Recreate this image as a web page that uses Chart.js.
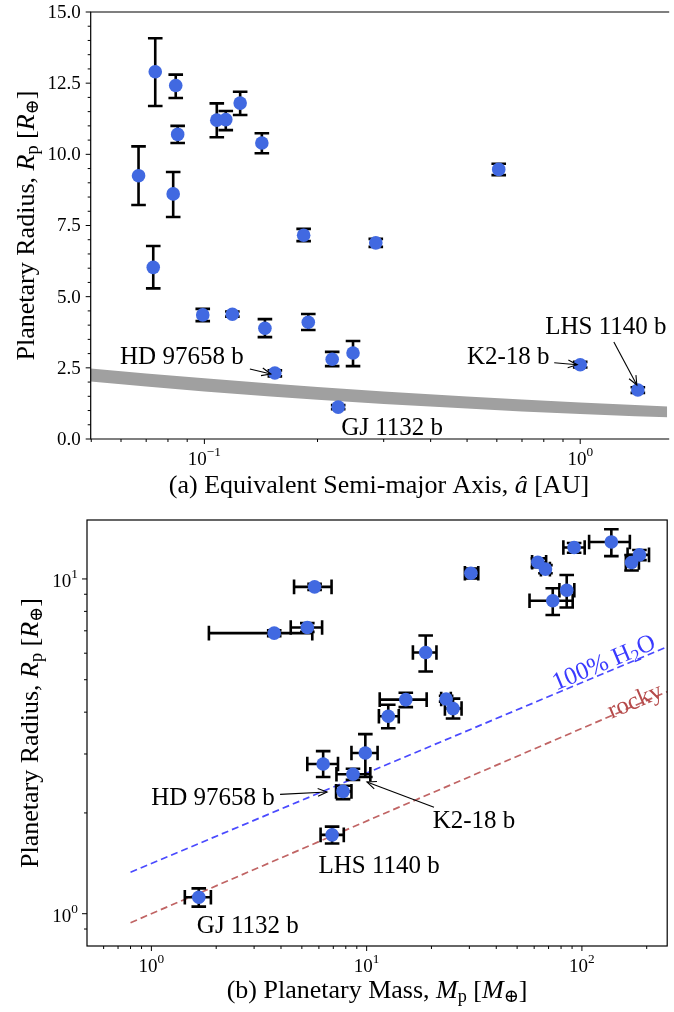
<!DOCTYPE html>
<html><head><meta charset="utf-8">
<script src="https://cdn.jsdelivr.net/npm/chart.js@4.4.0/dist/chart.umd.min.js"></script>
<style>
html,body{margin:0;padding:0;background:#fff;}
#wrap{position:relative;width:674px;height:1012px;overflow:hidden;background:#fff;}
canvas{position:absolute;left:0;}
</style></head><body>
<div id="wrap">
<canvas id="c1" width="674" height="505" style="top:0px"></canvas>
<canvas id="c2" width="674" height="507" style="top:505px"></canvas>
</div>
<script>
// ---------------- DATA ----------------
const semiMajorAxis = [0.0668, 0.0740, 0.0731, 0.0826, 0.0839, 0.0849, 0.0990, 0.1187, 0.1079, 0.1140, 0.1245, 0.1422, 0.1449, 0.1540, 0.1837, 0.1890, 0.2188, 0.2270, 0.2486, 0.2858, 0.6070, 1.0000, 1.4235];
const radius     = [9.25, 12.90, 6.03, 8.61, 12.42, 10.70, 4.36, 4.38, 11.20, 11.22, 11.80, 10.40, 3.89, 2.32, 7.16, 4.10, 2.80, 1.12, 3.02, 6.89, 9.47, 2.61, 1.72];
const radiusLow  = [8.22, 11.70, 5.29, 7.80, 11.98, 10.40, 4.14, 4.30, 10.60, 10.85, 11.38, 10.04, 3.58, 2.20, 6.95, 3.83, 2.56, 1.05, 2.56, 6.75, 9.27, 2.51, 1.62];
const radiusHigh = [10.28, 14.08, 6.78, 9.38, 12.80, 11.00, 4.57, 4.48, 11.79, 11.52, 12.20, 10.74, 4.21, 2.41, 7.38, 4.39, 3.06, 1.19, 3.44, 7.03, 9.67, 2.71, 1.82];
const mass       = [85.0, 137.0, 18.8, 73.2, 92.0, 67.7, 15.2, 23.4, 170.0, 62.4, 185.0, 30.5, 12.6, 7.77, 5.30, 25.2, 6.28, 1.66, 9.86, 3.72, 5.73, 8.64, 6.91];
const massLow    = [78.6, 108.0, 16.4, 57.1, 82.0, 64.5, 11.5, 22.2, 160.0, 58.7, 163.0, 28.6, 11.4, 7.21, 4.44, 23.1, 5.30, 1.43, 8.50, 1.85, 4.60, 7.24, 6.11];
const massHigh   = [92.2, 167.0, 21.1, 90.6, 103.0, 71.0, 19.0, 24.6, 184.0, 68.2, 205.0, 33.0, 14.1, 8.50, 6.21, 27.6, 7.36, 1.89, 11.24, 5.59, 6.87, 10.4, 7.83];

// rocky-planet band (panel a)
const bandAU    = [0.0498, 0.07, 0.10, 0.15, 0.20, 0.30, 0.50, 0.70, 1.00, 1.40, 1.71];
const bandUpper = [2.48, 2.30, 2.13, 1.95, 1.83, 1.67, 1.49, 1.39, 1.28, 1.19, 1.14];
const bandLower = [2.02, 1.84, 1.67, 1.49, 1.38, 1.23, 1.07, 0.97, 0.88, 0.80, 0.76];

// composition curves (panel b)
const curveMass  = [0.8, 250];
const waterCurve = [1.33, 6.28];
const rockyCurve = [0.94, 4.61];

// tick labels
const topYTicks = [0.0, 2.5, 5.0, 7.5, 10.0, 12.5, 15.0];
const topXMajor = [0.1, 1];
const topXExp   = ['\u22121', '0'];
const botXMajor = [1, 10, 100];
const botXExp   = ['0', '1', '2'];
const botYMajor = [1, 10];
const botYExp   = ['0', '1'];

// annotations: planet index
const annotIdx  = {hd: 13, gj: 17, k2: 21, lhs: 22};

// ---------------- STYLE ----------------
const FONT = '"Liberation Serif","DejaVu Serif",serif';
const BLUE = '#4169e1';
const TITLE = 26, ANN = 25;

function drawRich(ctx, segs, x, y, size, align, color) {
  const parts = segs.map(s => {
    const sz = (s.sub || s.sup) ? size * 0.7 : size;
    const font = (s.it ? 'italic ' : '') + sz + 'px ' + FONT;
    ctx.font = font;
    return {t: s.t, font, w: ctx.measureText(s.t).width, dy: s.sub ? size * 0.25 : (s.sup ? -size * 0.38 : 0)};
  });
  const total = parts.reduce((a, p) => a + p.w, 0);
  let cx = align === 'center' ? x - total / 2 : (align === 'right' ? x - total : x);
  ctx.fillStyle = color; ctx.textBaseline = 'middle'; ctx.textAlign = 'left';
  parts.forEach(p => { ctx.font = p.font; ctx.fillText(p.t, cx, y + p.dy); cx += p.w; });
  return total;
}
function pow10Label(ctx, exp, x, y, align) {
  drawRich(ctx, [{t: '10'}, {t: exp, sup: 1}], x, y, 19, align, '#000');
}
function arrow(ctx, x1, y1, x2, y2) {
  ctx.save();
  ctx.strokeStyle = '#000'; ctx.lineWidth = 1.1;
  ctx.beginPath(); ctx.moveTo(x1, y1); ctx.lineTo(x2, y2); ctx.stroke();
  const a = Math.atan2(y2 - y1, x2 - x1), L = 10, h = 0.4;
  ctx.beginPath();
  ctx.moveTo(x2 - L * Math.cos(a - h), y2 - L * Math.sin(a - h));
  ctx.lineTo(x2, y2);
  ctx.lineTo(x2 - L * Math.cos(a + h), y2 - L * Math.sin(a + h));
  ctx.stroke();
  ctx.restore();
}
function label(ctx, text, x, y) {
  ctx.font = ANN + 'px ' + FONT; ctx.fillStyle = '#000';
  ctx.textAlign = 'center'; ctx.textBaseline = 'middle';
  ctx.fillText(text, x, y);
}
function logMinors(min, max) {
  const out = [];
  for (let e = Math.floor(Math.log10(min)); e <= Math.ceil(Math.log10(max)); e++) {
    for (let k = 2; k <= 9; k++) { const v = k * Math.pow(10, e); if (v >= min && v <= max) out.push(v); }
  }
  return out;
}

function errorBarPlugin(getX, xErr) {
  return {
    id: 'errbars',
    beforeDatasetDraw(chart, args) {
      if (chart.data.datasets[args.index].label !== 'planets') return;
      const ctx = chart.ctx, xs = chart.scales.x, ys = chart.scales.y;
      ctx.save();
      ctx.strokeStyle = '#000'; ctx.lineWidth = 2.6; ctx.lineCap = 'butt';
      const cap = 7.3;
      for (let i = 0; i < radius.length; i++) {
        const px = xs.getPixelForValue(getX(i));
        const py = ys.getPixelForValue(radius[i]);
        const yl = ys.getPixelForValue(radiusLow[i]), yh = ys.getPixelForValue(radiusHigh[i]);
        ctx.beginPath();
        ctx.moveTo(px, yl); ctx.lineTo(px, yh);
        ctx.moveTo(px - cap, yl); ctx.lineTo(px + cap, yl);
        ctx.moveTo(px - cap, yh); ctx.lineTo(px + cap, yh);
        if (xErr) {
          const xl = xs.getPixelForValue(massLow[i]), xh = xs.getPixelForValue(massHigh[i]);
          ctx.moveTo(xl, py); ctx.lineTo(xh, py);
          ctx.moveTo(xl, py - cap); ctx.lineTo(xl, py + cap);
          ctx.moveTo(xh, py - cap); ctx.lineTo(xh, py + cap);
        }
        ctx.stroke();
      }
      ctx.restore();
    }
  };
}

const yTitleSegs = [{t: 'Planetary Radius, '}, {t: 'R', it: 1}, {t: 'p', sub: 1}, {t: ' ['}, {t: 'R', it: 1}, {t: '\u2295', sub: 1}, {t: ']'}];

// ---------------- PANEL A ----------------
const axesA = {
  id: 'axesA',
  afterDraw(chart) {
    const ctx = chart.ctx, ca = chart.chartArea, xs = chart.scales.x, ys = chart.scales.y;
    ctx.save();
    ctx.strokeStyle = '#000'; ctx.lineWidth = 1.2;
    ctx.beginPath();
    ctx.moveTo(ca.right + 2, ca.top); ctx.lineTo(ca.left, ca.top); ctx.lineTo(ca.left, ca.bottom); ctx.lineTo(ca.right + 2, ca.bottom);
    ctx.stroke();
    ctx.lineWidth = 1;
    ctx.beginPath();
    for (let v = 0; v <= 15.0001; v += 0.5) {
      const y = ys.getPixelForValue(v); const major = Math.abs(v / 2.5 - Math.round(v / 2.5)) < 1e-6;
      ctx.moveTo(ca.left, y); ctx.lineTo(ca.left - (major ? 5 : 3), y);
    }
    topXMajor.forEach(v => { const x = xs.getPixelForValue(v); ctx.moveTo(x, ca.bottom); ctx.lineTo(x, ca.bottom + 5); });
    logMinors(xs.min, xs.max).forEach(v => { const x = xs.getPixelForValue(v); ctx.moveTo(x, ca.bottom); ctx.lineTo(x, ca.bottom + 3); });
    ctx.stroke();
    ctx.font = '19px ' + FONT; ctx.fillStyle = '#000'; ctx.textAlign = 'right'; ctx.textBaseline = 'middle';
    topYTicks.forEach(v => ctx.fillText(v.toFixed(1), ca.left - 10, ys.getPixelForValue(v) + 1));
    topXMajor.forEach((v, i) => pow10Label(ctx, topXExp[i], xs.getPixelForValue(v), ca.bottom + 21, 'center'));
    drawRich(ctx, [{t: '(a) Equivalent Semi-major Axis, '}, {t: '\u00e2', it: 1}, {t: ' [AU]'}], (ca.left + ca.right) / 2, ca.bottom + 47, TITLE, 'center', '#000');
    ctx.save(); ctx.translate(27, (ca.top + ca.bottom) / 2); ctx.rotate(-Math.PI / 2);
    drawRich(ctx, yTitleSegs, 0, 0, TITLE, 'center', '#000');
    ctx.restore();
    const P = i => [xs.getPixelForValue(semiMajorAxis[i]), ys.getPixelForValue(radius[i])];
    let [x, y] = P(annotIdx.hd);
    label(ctx, 'HD 97658 b', x - 93, y - 16); arrow(ctx, x - 25, y - 4, x - 4, y + 1);
    [x, y] = P(annotIdx.gj);
    label(ctx, 'GJ 1132 b', x + 54, y + 21);
    [x, y] = P(annotIdx.k2);
    label(ctx, 'K2-18 b', x - 72, y - 7); arrow(ctx, x - 26, y - 2, x - 3, y);
    [x, y] = P(annotIdx.lhs);
    label(ctx, 'LHS 1140 b', x - 32, y - 63); arrow(ctx, x - 24, y - 48, x - 1, y - 5);
    ctx.restore();
  }
};

new Chart(document.getElementById('c1'), {
  type: 'scatter',
  data: {
    datasets: [
      {label: 'bandU', data: bandAU.map((a, i) => ({x: a, y: bandUpper[i]})), showLine: true, pointRadius: 0, borderWidth: 0, borderColor: 'rgba(0,0,0,0)', backgroundColor: '#a0a0a0', fill: '+1', order: 3},
      {label: 'bandL', data: bandAU.map((a, i) => ({x: a, y: bandLower[i]})), showLine: true, pointRadius: 0, borderWidth: 0, borderColor: 'rgba(0,0,0,0)', fill: false, order: 4},
      {label: 'planets', data: semiMajorAxis.map((a, i) => ({x: a, y: radius[i]})), pointRadius: 6.8, pointBackgroundColor: BLUE, pointBorderWidth: 0, order: 0}
    ]
  },
  options: {
    responsive: false, animation: false, events: [],
    layout: {padding: {left: 90.7, right: 0, top: 12, bottom: 66}},
    plugins: {legend: {display: false}, tooltip: {enabled: false}, filler: {propagate: false}},
    scales: {
      x: {type: 'logarithmic', min: 0.04983, max: 1.704, bounds: 'data', display: false},
      y: {type: 'linear', min: 0, max: 15, display: false}
    }
  },
  plugins: [errorBarPlugin(i => semiMajorAxis[i], false), axesA]
});

// ---------------- PANEL B ----------------
const axesB = {
  id: 'axesB',
  afterDraw(chart) {
    const ctx = chart.ctx, ca = chart.chartArea, xs = chart.scales.x, ys = chart.scales.y;
    ctx.save();
    ctx.strokeStyle = '#000'; ctx.lineWidth = 1.2;
    ctx.strokeRect(ca.left, ca.top, ca.right - ca.left, ca.bottom - ca.top);
    ctx.lineWidth = 1;
    ctx.beginPath();
    botXMajor.forEach(v => { const x = xs.getPixelForValue(v); ctx.moveTo(x, ca.bottom); ctx.lineTo(x, ca.bottom + 5); });
    logMinors(xs.min, xs.max).forEach(v => { const x = xs.getPixelForValue(v); ctx.moveTo(x, ca.bottom); ctx.lineTo(x, ca.bottom + 3); });
    botYMajor.forEach(v => { const y = ys.getPixelForValue(v); ctx.moveTo(ca.left, y); ctx.lineTo(ca.left - 5, y); });
    logMinors(ys.min, ys.max).forEach(v => { const y = ys.getPixelForValue(v); ctx.moveTo(ca.left, y); ctx.lineTo(ca.left - 3, y); });
    ctx.stroke();
    botXMajor.forEach((v, i) => pow10Label(ctx, botXExp[i], xs.getPixelForValue(v), ca.bottom + 21, 'center'));
    botYMajor.forEach((v, i) => pow10Label(ctx, botYExp[i], ca.left - 9, ys.getPixelForValue(v) + 3, 'right'));
    drawRich(ctx, [{t: '(b) Planetary Mass, '}, {t: 'M', it: 1}, {t: 'p', sub: 1}, {t: ' ['}, {t: 'M', it: 1}, {t: '\u2295', sub: 1}, {t: ']'}], (ca.left + ca.right) / 2, ca.bottom + 45, TITLE, 'center', '#000');
    ctx.save(); ctx.translate(31, (ca.top + ca.bottom) / 2); ctx.rotate(-Math.PI / 2);
    drawRich(ctx, yTitleSegs, 0, 0, TITLE, 'center', '#000');
    ctx.restore();
    const ang = Math.atan2(ys.getPixelForValue(waterCurve[1]) - ys.getPixelForValue(waterCurve[0]), xs.getPixelForValue(curveMass[1]) - xs.getPixelForValue(curveMass[0]));
    ctx.save(); ctx.translate(xs.getPixelForValue(127), ys.getPixelForValue(5.6)); ctx.rotate(ang);
    drawRich(ctx, [{t: '100% H'}, {t: '2', sub: 1}, {t: 'O'}], 0, 0, ANN, 'center', '#3a3aff');
    ctx.restore();
    ctx.save(); ctx.translate(xs.getPixelForValue(177), ys.getPixelForValue(4.30)); ctx.rotate(ang);
    drawRich(ctx, [{t: 'rocky'}], 0, 0, ANN, 'center', '#b54a4a');
    ctx.restore();
    const P = i => [xs.getPixelForValue(mass[i]), ys.getPixelForValue(radius[i])];
    let [x, y] = P(annotIdx.hd);
    label(ctx, 'HD 97658 b', x - 130, y + 7); arrow(ctx, x - 63, y + 3, x - 16, y + 0.6);
    [x, y] = P(annotIdx.k2);
    label(ctx, 'K2-18 b', x + 121, y + 47); arrow(ctx, x + 81, y + 33, x + 14, y + 7.7);
    [x, y] = P(annotIdx.lhs);
    label(ctx, 'LHS 1140 b', x + 47, y + 32);
    [x, y] = P(annotIdx.gj);
    label(ctx, 'GJ 1132 b', x + 49, y + 29);
    ctx.restore();
  }
};

new Chart(document.getElementById('c2'), {
  type: 'scatter',
  data: {
    datasets: [
      {label: 'water', data: curveMass.map((m, i) => ({x: m, y: waterCurve[i]})), showLine: true, pointRadius: 0, borderColor: '#4a4aff', borderWidth: 1.7, borderDash: [7, 4], order: 2},
      {label: 'rocky', data: curveMass.map((m, i) => ({x: m, y: rockyCurve[i]})), showLine: true, pointRadius: 0, borderColor: '#c06464', borderWidth: 1.7, borderDash: [7, 4], order: 3},
      {label: 'planets', data: mass.map((m, i) => ({x: m, y: radius[i]})), pointRadius: 6.8, pointBackgroundColor: BLUE, pointBorderWidth: 0, order: 0}
    ]
  },
  options: {
    responsive: false, animation: false, events: [],
    layout: {padding: {left: 87, right: 4, top: 15, bottom: 66}},
    plugins: {legend: {display: false}, tooltip: {enabled: false}},
    scales: {
      x: {type: 'logarithmic', min: 0.5022, max: 249, bounds: 'data', display: false},
      y: {type: 'logarithmic', min: 0.8008, max: 15.0, bounds: 'data', display: false}
    }
  },
  plugins: [errorBarPlugin(i => mass[i], true), axesB]
});
</script>
</body></html>
